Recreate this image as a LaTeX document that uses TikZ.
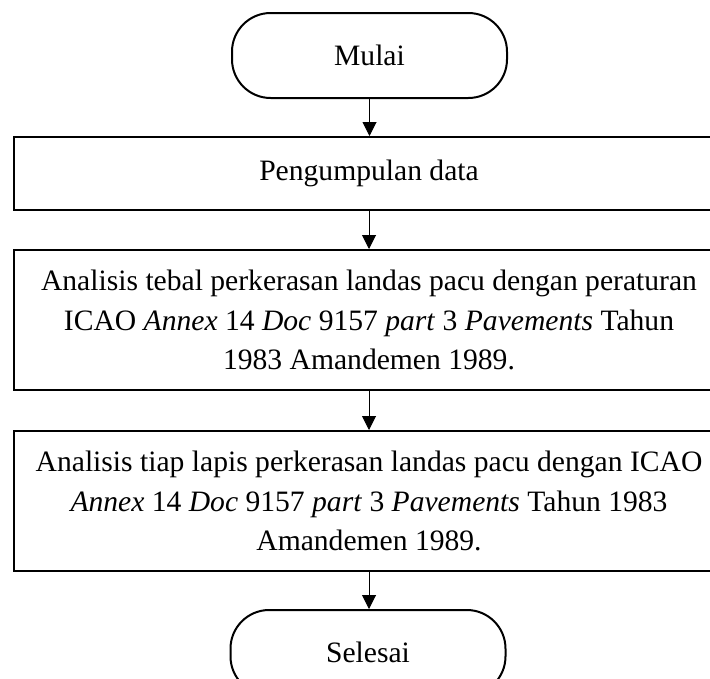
\documentclass[tikz,border=0pt]{standalone}
\usepackage{fontspec}
\setmainfont{Liberation Serif}
\usetikzlibrary{arrows.meta}
\begin{document}
\begin{tikzpicture}[x=0.75pt,y=-0.75pt,
  txt/.style={font=\fontsize{22.2}{29.8}\selectfont, align=center, inner sep=0pt},
  terminal/.style={txt, draw, line width=1.5pt, rounded corners=29pt,
    minimum width=206.25pt, minimum height=63.75pt},
  procbox/.style={txt, draw, line width=1.5pt, minimum width=532.5pt},
  arr/.style={line width=0.75pt, -{Triangle[width=10.5pt,length=10.5pt]}}]
\path[use as bounding box] (0,0) rectangle (710,678);
\node[terminal] (mulai) at (369.5,55.5) {Mulai};
\node[procbox, minimum height=54.75pt] (data) at (369,173.5) {Pengumpulan data};
\node[procbox, minimum height=105pt] (tebal) at (369,320)
  {Analisis tebal perkerasan landas pacu dengan peraturan\\
   ICAO \textit{Annex} 14 \textit{Doc} 9157 \textit{part} 3 \textit{Pavements} Tahun\\
   1983 Amandemen 1989.};
\node[procbox, minimum height=105pt] (lapis) at (369,501)
  {Analisis tiap lapis perkerasan landas pacu dengan ICAO\\
   \textit{Annex} 14 \textit{Doc} 9157 \textit{part} 3 \textit{Pavements} Tahun 1983\\
   Amandemen 1989.};
\node[terminal] (selesai) at (368,652.5) {Selesai};
\draw[arr] (mulai.south) -- (mulai.south |- data.north);
\draw[arr] (data.south) -- (data.south |- tebal.north);
\draw[arr] (tebal.south) -- (tebal.south |- lapis.north);
\draw[arr] (lapis.south) -- (lapis.south |- selesai.north);
\end{tikzpicture}
\end{document}
